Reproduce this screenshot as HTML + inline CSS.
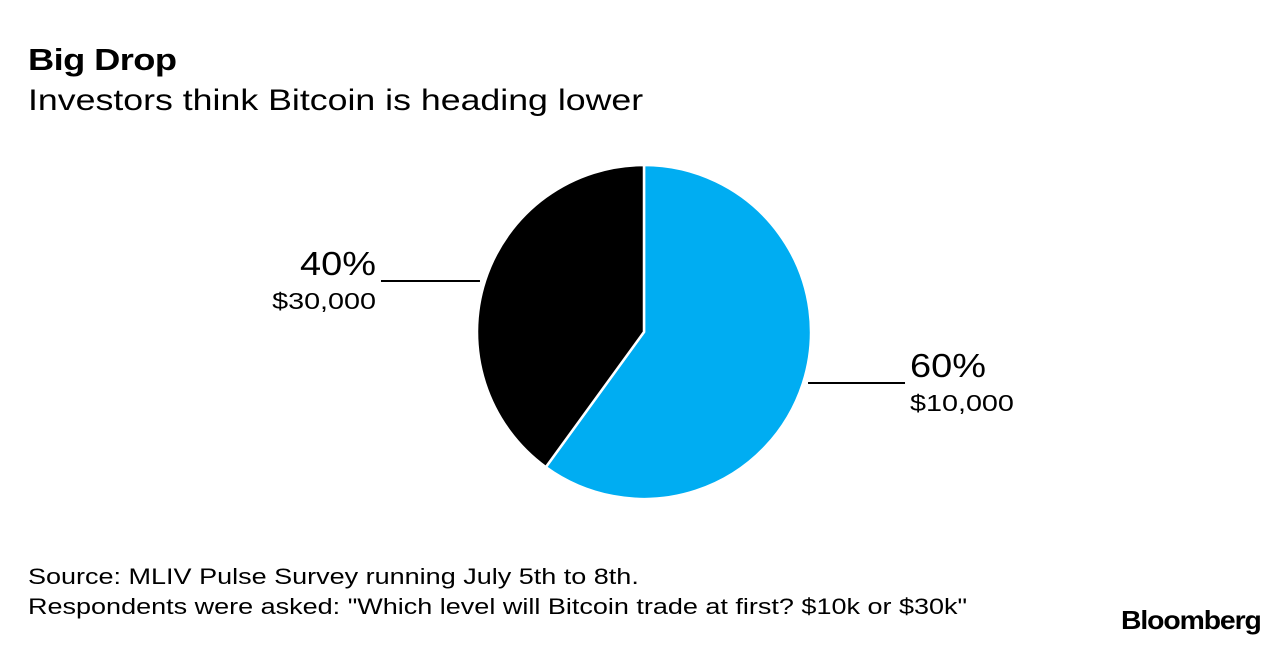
<!DOCTYPE html>
<html><head><meta charset="utf-8">
<style>
html,body{margin:0;padding:0;background:#fff;}
body{width:1288px;height:648px;position:relative;overflow:hidden;font-family:"Liberation Sans",Arial,sans-serif;color:#000;}
.t{position:absolute;white-space:nowrap;transform-origin:0 0;}
</style></head>
<body>
<div class="t" style="left:28px;top:42px;font-size:31px;font-weight:bold;letter-spacing:-0.5px;transform:scaleX(1.17);">Big Drop</div>
<div class="t" style="left:28px;top:84px;font-size:30px;transform:scaleX(1.19);">Investors think Bitcoin is heading lower</div>
<svg width="1288" height="648" style="position:absolute;left:0;top:0">
<g id="pie"></g>
</svg>
<div class="t" style="left:28px;top:562px;font-size:22.5px;line-height:30px;transform:scaleX(1.2);">Source: MLIV Pulse Survey running July 5th to 8th.<br>Respondents were asked: "Which level will Bitcoin trade at first? $10k or $30k"</div>
<div class="t" style="left:1121px;top:605px;font-size:26px;font-weight:bold;letter-spacing:-1px;transform:scaleX(1.09);">Bloomberg</div>
<script>
const categories = ["$10,000", "$30,000"];
const values = [60, 40];
const colors = ["#00adf2", "#000000"];
const cx = 644, cy = 332, r = 167;
const g = document.getElementById('pie');
const ns = 'http://www.w3.org/2000/svg';
const total = values.reduce((a,b)=>a+b,0);
function pt(a, rr){ return [cx + rr*Math.sin(a), cy - rr*Math.cos(a)]; }
function addText(str, x, y, size, anchor, sx, name){
  const gg = document.createElementNS(ns,'g');
  gg.setAttribute('transform',`translate(${x},${y}) scale(${sx},1)`);
  const t = document.createElementNS(ns,'text');
  t.setAttribute('x',0); t.setAttribute('y',0);
  t.setAttribute('text-anchor',anchor); t.setAttribute('font-size',size);
  t.setAttribute('font-family','Liberation Sans, Arial, sans-serif');
  t.textContent = str;
  
  
  gg.appendChild(t); g.appendChild(gg);
}
let a0 = 0;
values.forEach((v,i)=>{
  const a1 = a0 + v/total*2*Math.PI;
  const p0 = pt(a0,r), p1 = pt(a1,r);
  const large = (a1-a0) > Math.PI ? 1 : 0;
  const path = document.createElementNS(ns,'path');
  path.setAttribute('d',`M${cx},${cy} L${p0[0]},${p0[1]} A${r},${r} 0 ${large} 1 ${p1[0]},${p1[1]} Z`);
  path.setAttribute('fill',colors[i]);
  path.setAttribute('stroke','#fff');
  path.setAttribute('stroke-width','2.5');
  
  
  g.appendChild(path);
  const mid = (a0+a1)/2;
  const right = Math.sin(mid) > 0;
  const lineY = right ? 383 : 281;
  const xEdge = cx + (right?1:-1)*Math.sqrt(Math.max(0, r*r-(lineY-cy)*(lineY-cy)));
  const x1 = right ? xEdge+5 : xEdge-5;
  const x2 = right ? x1+97 : x1-99;
  const line = document.createElementNS(ns,'line');
  line.setAttribute('x1', x1); line.setAttribute('y1', lineY);
  line.setAttribute('x2', x2); line.setAttribute('y2', lineY);
  line.setAttribute('stroke','#000'); line.setAttribute('stroke-width','2');
  
  
  g.appendChild(line);
  const tx = right ? x2+5 : x2-5;
  const anchor = right ? 'start' : 'end';
  addText(v + '%', tx, lineY-6, 33, anchor, 1.15, 'percent-label-'+i);
  addText(categories[i], tx, lineY+28, 23, anchor, 1.25, 'category-label-'+i);
  a0 = a1;
});
</script>
</body></html>
